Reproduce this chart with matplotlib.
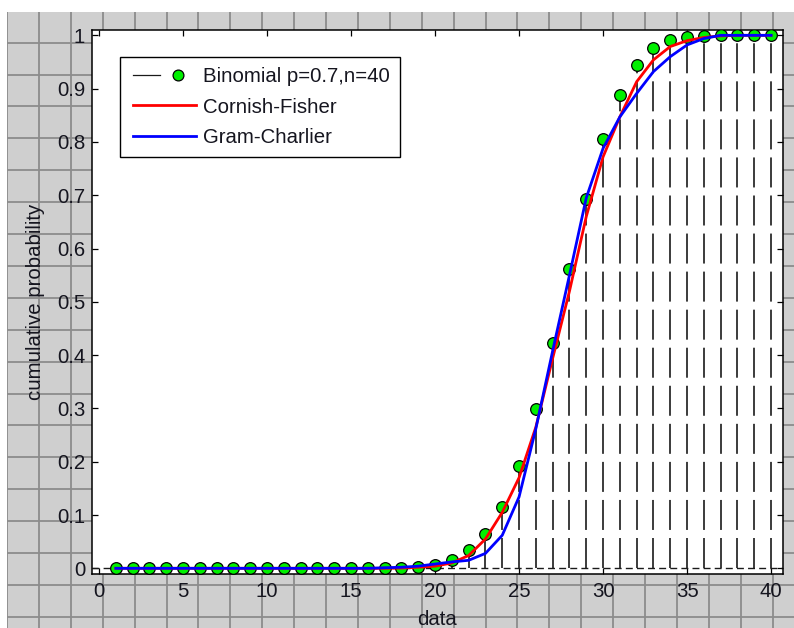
import matplotlib
matplotlib.use("Agg")
import matplotlib.pyplot as plt
from matplotlib.lines import Line2D
from matplotlib.legend_handler import HandlerBase

plt.rcParams["font.family"] = ["Liberation Sans", "DejaVu Sans"]
plt.rcParams["lines.scale_dashes"] = False

# ---- data -------------------------------------------------------------
x = list(range(1, 41))

binomial = [0.0] * 16 + [
    0.0001, 0.0004, 0.0016, 0.0055, 0.0155, 0.0340, 0.0650, 0.1150,
    0.1925, 0.2985, 0.4220, 0.5610, 0.6925, 0.8050, 0.8880, 0.9440,
    0.9755, 0.9910, 0.9970, 0.9992, 0.9998, 1.0, 1.0, 1.0,
]

cornish_fisher = [0.0] * 17 + [
    0.0005, 0.002, 0.004, 0.010, 0.024, 0.055, 0.105,
    0.170, 0.265, 0.394, 0.520, 0.660, 0.772, 0.847, 0.913,
    0.954, 0.979, 0.990, 0.996, 0.999, 1.0, 1.0, 1.0,
]

gram_charlier = [0.0] * 16 + [
    0.001, 0.002, 0.004, 0.008, 0.012, 0.015, 0.028, 0.062,
    0.134, 0.262, 0.408, 0.550, 0.695, 0.788, 0.847, 0.891,
    0.932, 0.960, 0.982, 0.994, 1.0, 1.0, 1.0, 1.0,
]

xticks = [0, 5, 10, 15, 20, 25, 30, 35, 40]
yticks = [0, 0.1, 0.2, 0.3, 0.4, 0.5, 0.6, 0.7, 0.8, 0.9, 1.0]
ytick_labels = ["0", "0.1", "0.2", "0.3", "0.4", "0.5", "0.6", "0.7", "0.8", "0.9", "1"]
labels = ["Binomial p=0.7,n=40", "Cornish-Fisher", "Gram-Charlier"]

# ---- figure -----------------------------------------------------------
W, H = 794, 628
FS = 14.7
TXT = "#15151f"
fig = plt.figure(figsize=(W / 100, H / 100), dpi=100, facecolor="white")

# graph-paper backdrop (pixel units)
bg = fig.add_axes([7 / W, 0, (W - 7) / W, (H - 12) / H])
bg.set_xlim(7, W)
bg.set_ylim(H, 12)
bg.set_facecolor("#cfcfcf")
for s in bg.spines.values():
    s.set_visible(False)
bg.set_xticks([])
bg.set_yticks([])
for k in range(25):
    bg.axvline(7 + 31.9 * k, color="#8c8c8c", lw=1.3)
for k in range(19):
    bg.axhline(42.7 + 31.9 * k, color="#8c8c8c", lw=1.3)

ax = fig.add_axes([92 / W, 1 - 574 / H, (783 - 92) / W, (574 - 30) / H])
ax.set_facecolor("white")
ax.set_xlim(-0.42, 40.71)
ax.set_ylim(-0.0107, 1.010)

# stems and baseline
ax.vlines(x, 0, binomial, colors="#1a1a1a", lw=1.2,
          linestyles=[(0, (21.6, 5.8))], zorder=2)
ax.axhline(0, color="#1a1a1a", lw=1.0, dashes=(5, 3), zorder=2)
h_pts, = ax.plot(x, binomial, "o", ms=8.4, mfc="#00f000", mec="black",
                 mew=0.9, zorder=3)
h_cf, = ax.plot(x, cornish_fisher, color="#ff0000", lw=2.0, zorder=4)
h_gc, = ax.plot(x, gram_charlier, color="#0000ff", lw=2.0, zorder=5)

ax.set_xticks(xticks)
ax.set_yticks(yticks)
ax.set_yticklabels(ytick_labels)
ax.tick_params(direction="in", length=4.3, width=0.9, top=True, right=True,
               labelsize=FS, labelcolor=TXT, pad=5)
ax.tick_params(axis="x", pad=6)
for s in ax.spines.values():
    s.set_linewidth(1.1)
    s.set_color("black")

ax.set_xlabel("data", fontsize=FS, color=TXT)
ax.set_ylabel("cumulative probability", fontsize=FS, color=TXT)
ax.xaxis.set_label_coords(0.5, -0.066)
ax.yaxis.set_label_coords(-0.068, 0.5)


class StemHandler(HandlerBase):
    def create_artists(self, legend, orig_handle, xdescent, ydescent,
                       width, height, fontsize, trans):
        y = height / 2 - ydescent
        x0 = -xdescent
        seg = Line2D([x0 + 0.045 * width, x0 + 0.455 * width], [y, y],
                     color="#1a1a1a", lw=0.9, transform=trans)
        dot = Line2D([x0 + 0.727 * width], [y], marker="o", ls="none",
                     ms=7.8, mfc="#00f000", mec="black", mew=0.9,
                     transform=trans)
        return [seg, dot]


class SolidHandler(HandlerBase):
    def create_artists(self, legend, orig_handle, xdescent, ydescent,
                       width, height, fontsize, trans):
        y = height / 2 - ydescent
        x0 = -xdescent
        ln = Line2D([x0 + 0.045 * width, x0 + width], [y, y],
                    color=orig_handle.get_color(),
                    lw=orig_handle.get_linewidth(), transform=trans)
        return [ln]


leg = ax.legend([h_pts, h_cf, h_gc], labels,
                handler_map={h_pts: StemHandler(), h_cf: SolidHandler(),
                             h_gc: SolidHandler()},
                loc="upper left", bbox_to_anchor=(0.0405, 0.9504),
                borderaxespad=0, fontsize=FS, fancybox=False,
                edgecolor="black", framealpha=1, borderpad=0.49,
                handlelength=3.235, handletextpad=0.35, labelspacing=0.57,
                labelcolor=TXT)
leg.get_frame().set_linewidth(1.0)
leg.set_zorder(10)

fig.savefig("out.png", dpi=100, facecolor="white")
